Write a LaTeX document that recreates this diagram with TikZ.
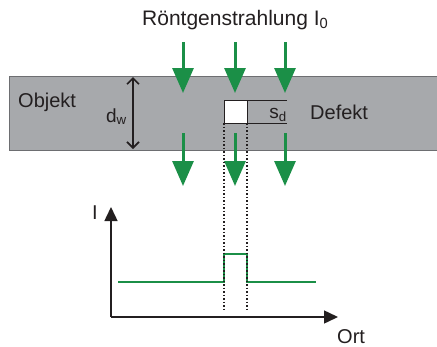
\documentclass[tikz,border=0pt]{standalone}
\usepackage{fontspec}
\setmainfont{Liberation Sans}
\usepackage{xcolor}
\usepackage{tikz}
\usetikzlibrary{arrows.meta}
\definecolor{xrGreen}{HTML}{1B8F47}
\definecolor{xrGray}{HTML}{A7A9AC}
\definecolor{xrEdge}{HTML}{6D6E71}
\definecolor{xrDark}{HTML}{231F20}

\begin{document}
\begin{tikzpicture}[
  x=1pt,y=-1pt,
  lbl/.style={font=\fontsize{20}{24}\selectfont,inner sep=0pt,text=xrDark},
  sml/.style={font=\fontsize{19}{22}\selectfont,inner sep=0pt,text=xrDark},
  ray/.style={line width=3pt,draw=xrGreen,-{Triangle[length=25pt,width=21pt]}},
  axis/.style={line width=1.5pt,draw=xrDark,-{Triangle[length=14pt,width=13pt]}},
  guide/.style={line width=1.2pt,draw=xrDark,dash pattern=on 1.5pt off 2pt}
]
\useasboundingbox (0,0) rectangle (437,346);
% Objekt (Platte)
\fill[xrGray] (9,76) rectangle (437,150);
\draw[xrEdge,line width=0.8pt] (437,76) -- (9,76) -- (9,150) -- (437,150);
% Defekt
\draw[xrDark,line width=0.8pt,fill=white] (224,100) coordinate (defTL) rectangle (247,123) coordinate (defBR);
\coordinate (defTR) at (247,100);
\coordinate (defBL) at (224,123);
\draw[xrDark,line width=0.8pt] (defTR) -- (287,100);
\draw[xrDark,line width=0.8pt] (defBR) -- (287,123);
% Dicke
\coordinate (dwTop) at (133,77);
\coordinate (dwBot) at (133,149);
\draw[xrDark,line width=1.6pt,{Straight Barb[length=6pt,width=12pt]}-{Straight Barb[length=6pt,width=12pt]}] (dwTop) -- (dwBot);
% Strahlen
\foreach \x in {183,235,285} {
  \draw[ray] (\x,42) -- (\x,93);
  \draw[ray] (\x,133) -- (\x,186);
}
% Texte
\node[lbl,font=\fontsize{21}{25}\selectfont,anchor=base west] (title) at (142,25) {Röntgenstrahlung I\textsubscript{0}};
\node[lbl,anchor=base west] (objekt) at (18,107) {Objekt};
\node[lbl,anchor=base west] (defekt) at (310,119) {Defekt};
\node[sml,anchor=base east] (dw) at (127,122) {d\textsubscript{w}};
\node[sml,anchor=base east] (sd) at (287,118) {s\textsubscript{d}};
% Intensitaetsverlauf
\coordinate (origin) at (111,317);
\draw[axis] (origin) -- (111,207) coordinate (yEnd);
\draw[axis] (origin) -- (338,317) coordinate (xEnd);
\node[lbl,anchor=base] (ilbl) at (95,219) {I};
\node[lbl,anchor=base west] (ort) at (337,343) {Ort};
\draw[xrGreen,line width=2pt] (118,282) -- (224,282) -- (224,254) -- (247,254) -- (247,282) -- (316,282);
\draw[guide] (defBL) -- (224,311);
\draw[guide] (defBR) -- (247,311);
\end{tikzpicture}
\end{document}
